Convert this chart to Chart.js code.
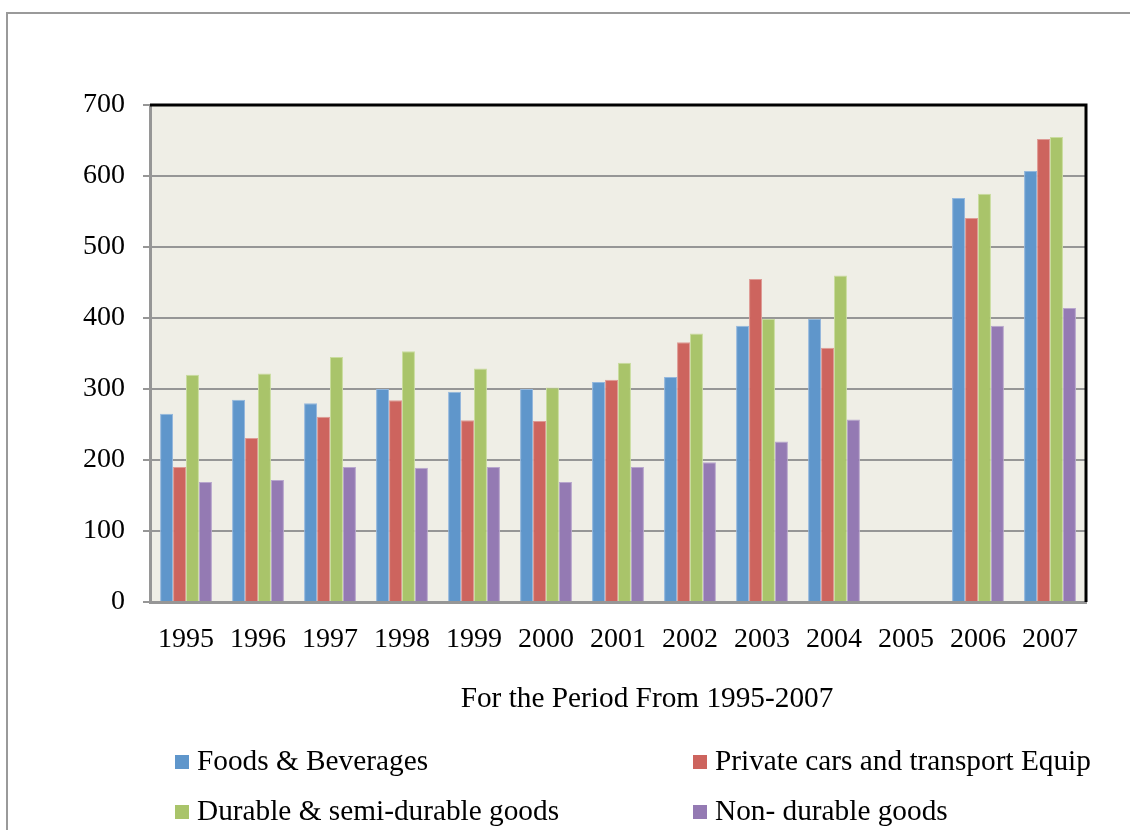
<!DOCTYPE html>
<html>
<head>
<meta charset="utf-8">
<title>Consumption by category 1995-2007</title>
<script src="https://cdn.jsdelivr.net/npm/chart.js@4/dist/chart.umd.min.js"></script>
<style>
    html, body { margin: 0; padding: 0; background: #fff; overflow: hidden; }
    #wrap { width: 1130px; height: 830px; position: relative; }
</style>
</head>
<body>
<div id="wrap"><canvas id="consChart" width="1130" height="830"></canvas></div>
<script>
const years = ['1995', '1996', '1997', '1998', '1999', '2000', '2001', '2002', '2003', '2004', '2005', '2006', '2007'];
const foods = [265, 285, 280, 300, 296, 300, 310, 317, 389, 399, null, 569, 607];
const privateCars = [190, 231, 261, 284, 256, 255, 313, 366, 455, 358, null, 541, 652];
const durable = [320, 322, 345, 353, 329, 302, 337, 378, 399, 460, null, 575, 655];
const nonDurable = [169, 172, 190, 189, 190, 169, 190, 197, 226, 257, null, 389, 414];
const yTicks = [0, 100, 200, 300, 400, 500, 600, 700];

const serif = '"Liberation Serif", "Times New Roman", serif';
const axisTitle = 'For the Period From 1995-2007';

// outer frame and plot background
const framePlugin = {
    id: 'frame',
    beforeDraw(chart) {
        const ctx = chart.ctx;
        const a = chart.chartArea;
        ctx.save();
        ctx.strokeStyle = '#9a9a9a';
        ctx.lineWidth = 2;
        ctx.strokeRect(7, 13, 1300, 1000);
        ctx.fillStyle = '#efeee6';
        ctx.fillRect(a.left, a.top, a.right - a.left, a.bottom - a.top);
        ctx.restore();
    },
    afterDraw(chart) {
        const ctx = chart.ctx;
        const a = chart.chartArea;
        ctx.save();
        // black top and right edges of the plot box
        ctx.strokeStyle = '#000';
        ctx.lineWidth = 3;
        ctx.beginPath();
        ctx.moveTo(a.left, a.top);
        ctx.lineTo(a.right, a.top);
        ctx.lineTo(a.right, a.bottom);
        ctx.stroke();

        // axis title
        ctx.fillStyle = '#000';
        ctx.font = '29.3px ' + serif;
        ctx.textAlign = 'center';
        ctx.textBaseline = 'alphabetic';
        ctx.fillText(axisTitle, 647, 707);

        // two-column legend
        const spots = [[175, 770], [693, 770], [175, 820], [693, 820]];
        ctx.textAlign = 'left';
        chart.data.datasets.forEach((ds, i) => {
            const [x, y] = spots[i];
            ctx.fillStyle = ds.backgroundColor;
            ctx.fillRect(x, y - 15, 14, 14);
            ctx.fillStyle = '#000';
            ctx.fillText(ds.label, x + 22, y);
        });
        ctx.restore();
    }
};

const ctx = document.getElementById('consChart').getContext('2d');
new Chart(ctx, {
    type: 'bar',
    data: {
        labels: years,
        datasets: [
            { label: 'Foods & Beverages', data: foods, backgroundColor: '#5f96cb', borderColor: '#93b7dd' },
            { label: 'Private cars and transport Equip', data: privateCars, backgroundColor: '#cd645e', borderColor: '#de9a95' },
            { label: 'Durable & semi-durable goods', data: durable, backgroundColor: '#a9c46a', borderColor: '#c9dc9e' },
            { label: 'Non- durable goods', data: nonDurable, backgroundColor: '#947ab3', borderColor: '#b8a6cd' }
        ]
    },
    options: {
        responsive: false,
        animation: false,
        layout: { padding: { top: 105, right: 44, left: 0, bottom: 0 } },
        datasets: {
            bar: { categoryPercentage: 0.72, barPercentage: 1, borderWidth: 1 }
        },
        plugins: {
            legend: { display: false },
            tooltip: { enabled: false }
        },
        scales: {
            x: {
                grid: { display: false },
                border: { display: true, color: '#969696', width: 3 },
                ticks: { color: '#000', font: { family: serif, size: 28 }, padding: 13, maxRotation: 0 },
                afterFit(scale) { scale.height = 228; }
            },
            y: {
                min: 0,
                max: 700,
                afterBuildTicks(scale) { scale.ticks = yTicks.map(v => ({ value: v })); },
                grid: { color: '#969696', lineWidth: 2, tickLength: 7 },
                border: { display: true, color: '#969696', width: 3 },
                ticks: { color: '#000', font: { family: serif, size: 28 }, padding: 18 },
                afterFit(scale) { scale.width = 150; }
            }
        }
    },
    plugins: [framePlugin]
});
</script>
</body>
</html>
